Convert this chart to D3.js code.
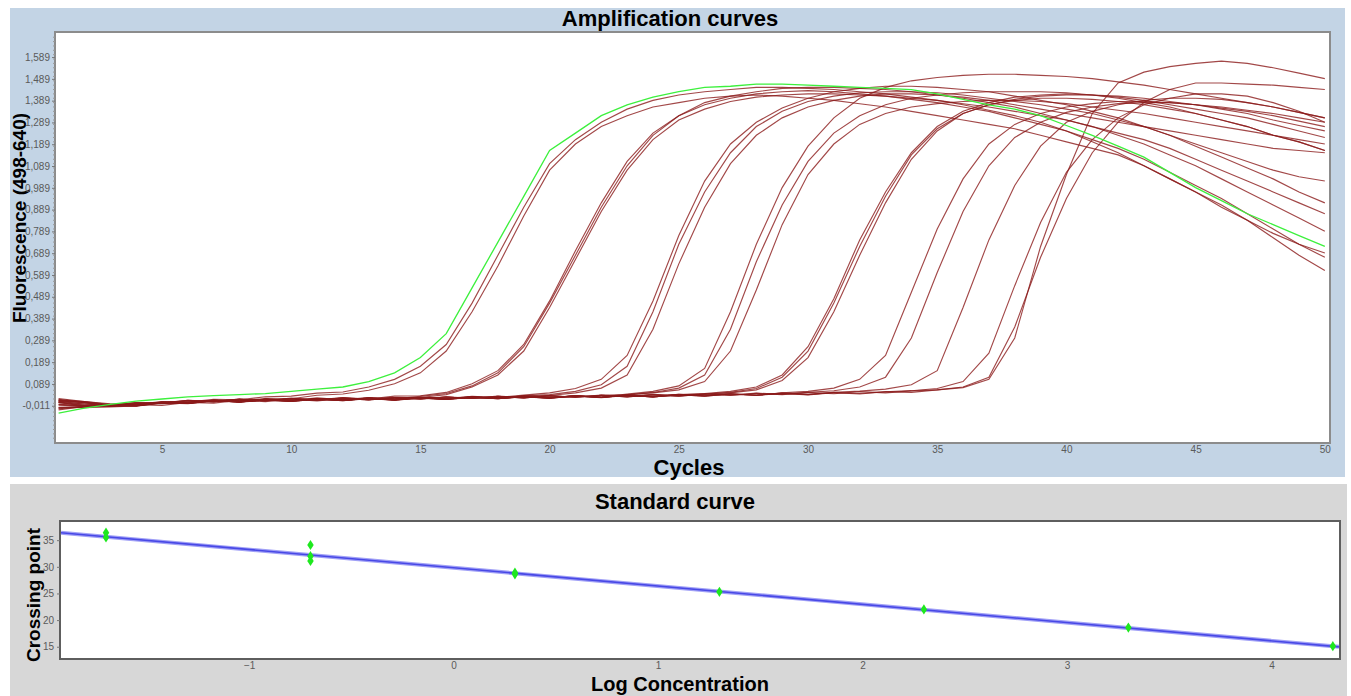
<!DOCTYPE html>
<html><head><meta charset="utf-8">
<script src="https://cdnjs.cloudflare.com/ajax/libs/d3/7.8.5/d3.min.js"></script>
<style>
body{margin:0;background:#fff;}
svg{display:block;}
.ttl{font-family:"Liberation Sans",Arial,sans-serif;font-weight:bold;fill:#000;}
</style>
</head><body>
<svg id="c" width="1351" height="696"></svg>
<script>
// ---------------- DATA ----------------
const cycles = [1,2,3,4,5,6,7,8,9,10,11,12,13,14,15,16,17,18,19,20,21,22,23,24,25,26,27,28,29,30,31,32,33,34,35,36,37,38,39,40,41,42,43,44,45,46,47,48,49,50];

const curveGreen = [-0.045,-0.022,-0.005,0.01,0.02,0.03,0.035,0.04,0.045,0.055, 0.065,0.075,0.1,0.14,0.21,0.32,0.53,0.74,0.95,1.16, 1.24,1.32,1.37,1.405,1.43,1.45,1.455,1.465,1.465,1.46, 1.455,1.45,1.445,1.44,1.42,1.395,1.37,1.35,1.32,1.275, 1.23,1.18,1.13,1.06,0.99,0.93,0.87,0.82,0.77,0.72];
const curveA1 = [0.012,0.002,-0.012,-0.004,0.008,0.006,0.018,0.016,0.03,0.033, 0.047,0.052,0.075,0.11,0.17,0.27,0.46,0.68,0.9,1.1, 1.21,1.29,1.35,1.39,1.415,1.43,1.44,1.45,1.45,1.445, 1.44,1.43,1.42,1.405,1.39,1.37,1.345,1.32,1.29,1.25, 1.2,1.15,1.09,1.03,0.97,0.9,0.84,0.78,0.73,0.69];
const curveA2 = [-0.018,-0.02,-0.016,-0.012,0.003,0.001,0.013,0.011,0.022,0.021, 0.037,0.043,0.06,0.09,0.14,0.24,0.42,0.63,0.86,1.07, 1.19,1.27,1.32,1.36,1.38,1.4,1.41,1.415,1.41,1.4, 1.39,1.375,1.36,1.34,1.32,1.3,1.28,1.26,1.23,1.2, 1.17,1.14,1.09,1.03,0.97,0.91,0.84,0.76,0.68,0.61];
const curveB1 = [0.018,0.004,-0.008,0.003,0.002,0.014,0.008,0.019,0.012,0.024, 0.016,0.027,0.02,0.033,0.035,0.05,0.09,0.15,0.27,0.47, 0.7,0.92,1.11,1.24,1.32,1.37,1.4,1.42,1.43,1.435, 1.43,1.42,1.41,1.395,1.38,1.36,1.34,1.31,1.28,1.25, 1.21,1.17,1.12,1.06,1.0,0.94,0.87,0.8,0.73,0.67];
const curveB2 = [-0.008,-0.013,-0.012,-0.009,0.004,0.001,0.014,0.008,0.019,0.013, 0.025,0.016,0.027,0.021,0.032,0.045,0.08,0.14,0.26,0.46, 0.68,0.9,1.09,1.23,1.32,1.38,1.41,1.43,1.445,1.45, 1.45,1.445,1.44,1.43,1.415,1.4,1.38,1.36,1.33,1.3, 1.27,1.23,1.19,1.14,1.09,1.03,0.97,0.91,0.85,0.79];
const curveB3 = [0.004,-0.002,-0.014,-0.006,-0.009,0.004,0.001,0.014,0.008,0.019, 0.011,0.022,0.016,0.026,0.027,0.04,0.075,0.13,0.24,0.44, 0.66,0.88,1.07,1.21,1.3,1.35,1.385,1.405,1.415,1.42, 1.42,1.415,1.41,1.4,1.39,1.375,1.36,1.34,1.32,1.3, 1.27,1.24,1.21,1.17,1.12,1.07,1.02,0.97,0.92,0.87];
const curveC1 = [0.022,0.008,-0.002,-0.009,0.004,0.004,0.014,0.008,0.019,0.014, 0.022,0.016,0.025,0.019,0.028,0.022,0.032,0.027,0.038,0.048, 0.068,0.11,0.22,0.47,0.77,1.02,1.19,1.29,1.355,1.4, 1.43,1.445,1.455,1.455,1.45,1.44,1.43,1.41,1.39,1.37, 1.34,1.31,1.27,1.23,1.18,1.13,1.08,1.03,0.97,0.92];
const curveC2 = [-0.025,-0.016,-0.011,-0.012,0.002,0.0,0.012,0.006,0.016,0.01, 0.019,0.012,0.022,0.016,0.026,0.02,0.03,0.024,0.034,0.04, 0.055,0.085,0.17,0.42,0.73,0.97,1.15,1.27,1.34,1.385, 1.41,1.425,1.43,1.43,1.425,1.415,1.4,1.385,1.37,1.35, 1.33,1.3,1.27,1.23,1.19,1.15,1.11,1.07,1.04,1.02];
const curveC3 = [0.01,-0.004,-0.004,-0.01,0.006,0.002,0.014,0.008,0.017,0.012, 0.021,0.015,0.024,0.017,0.027,0.021,0.031,0.024,0.034,0.036, 0.048,0.07,0.13,0.34,0.64,0.9,1.1,1.23,1.31,1.36, 1.39,1.41,1.42,1.42,1.415,1.405,1.39,1.37,1.35,1.33, 1.31,1.29,1.27,1.25,1.23,1.21,1.19,1.17,1.16,1.15];
const curveD1 = [0.003,-0.012,-0.008,-0.008,0.007,0.003,0.015,0.009,0.018,0.012, 0.021,0.014,0.023,0.017,0.026,0.019,0.029,0.023,0.032,0.025, 0.035,0.029,0.042,0.055,0.08,0.16,0.42,0.73,0.99,1.18, 1.31,1.4,1.45,1.48,1.495,1.505,1.51,1.51,1.505,1.5, 1.49,1.475,1.46,1.44,1.42,1.4,1.38,1.36,1.335,1.31];
const curveD2 = [-0.03,-0.014,-0.01,-0.011,0.004,0.0,0.012,0.006,0.016,0.009, 0.019,0.013,0.022,0.015,0.025,0.018,0.028,0.021,0.031,0.024, 0.034,0.027,0.038,0.05,0.07,0.13,0.34,0.65,0.91,1.11, 1.24,1.32,1.37,1.4,1.415,1.425,1.43,1.43,1.43,1.425, 1.415,1.4,1.38,1.36,1.33,1.3,1.27,1.23,1.2,1.16];
const curveD3 = [0.014,0.006,-0.01,0.0,0.0,0.012,0.008,0.018,0.012,0.022, 0.015,0.024,0.017,0.026,0.02,0.029,0.022,0.032,0.025,0.035, 0.028,0.037,0.04,0.048,0.062,0.1,0.24,0.52,0.82,1.05, 1.19,1.28,1.33,1.36,1.375,1.385,1.39,1.39,1.385,1.375, 1.36,1.345,1.33,1.31,1.29,1.27,1.25,1.23,1.21,1.19];
const curveE1 = [0.006,-0.008,-0.006,-0.009,0.005,0.002,0.014,0.008,0.018,0.011, 0.02,0.014,0.024,0.017,0.026,0.02,0.029,0.022,0.032,0.025, 0.034,0.028,0.037,0.03,0.04,0.045,0.055,0.075,0.13,0.26, 0.48,0.75,0.97,1.15,1.27,1.34,1.38,1.405,1.415,1.42, 1.415,1.405,1.39,1.37,1.35,1.33,1.31,1.28,1.25,1.22];
const curveE2 = [-0.022,-0.016,-0.011,-0.013,0.002,-0.001,0.011,0.005,0.015,0.009, 0.019,0.012,0.021,0.015,0.024,0.018,0.027,0.021,0.03,0.024, 0.033,0.026,0.036,0.029,0.039,0.042,0.05,0.068,0.12,0.24, 0.46,0.72,0.95,1.14,1.26,1.33,1.37,1.395,1.41,1.415, 1.415,1.41,1.4,1.385,1.37,1.35,1.33,1.3,1.275,1.25];
const curveE3 = [0.008,0.004,-0.012,-0.002,-0.002,0.01,0.006,0.017,0.011,0.021, 0.014,0.023,0.016,0.026,0.019,0.029,0.022,0.031,0.025,0.035, 0.028,0.037,0.03,0.039,0.033,0.042,0.048,0.062,0.105,0.21, 0.42,0.68,0.92,1.12,1.25,1.33,1.37,1.39,1.4,1.4, 1.395,1.385,1.37,1.35,1.33,1.3,1.27,1.23,1.2,1.16];
const curveF1 = [-0.006,-0.012,-0.008,-0.01,0.004,0.001,0.013,0.007,0.017,0.011, 0.02,0.014,0.023,0.016,0.026,0.019,0.029,0.022,0.031,0.025, 0.034,0.027,0.037,0.03,0.04,0.033,0.043,0.037,0.048,0.055, 0.07,0.11,0.22,0.51,0.8,1.03,1.19,1.28,1.33,1.36, 1.375,1.385,1.385,1.38,1.37,1.355,1.34,1.32,1.295,1.27];
const curveF2 = [0.012,0.007,-0.008,0.002,0.0,0.013,0.008,0.018,0.012,0.021, 0.014,0.024,0.017,0.026,0.02,0.029,0.022,0.032,0.025,0.034, 0.028,0.037,0.03,0.04,0.033,0.043,0.036,0.046,0.04,0.05, 0.058,0.075,0.12,0.3,0.6,0.88,1.09,1.22,1.29,1.335, 1.36,1.375,1.38,1.38,1.37,1.36,1.345,1.33,1.31,1.29];
const curveF3 = [0.004,-0.01,-0.007,-0.011,0.005,0.002,0.014,0.008,0.018,0.012, 0.021,0.015,0.024,0.017,0.027,0.02,0.03,0.023,0.033,0.026, 0.035,0.028,0.038,0.031,0.041,0.034,0.044,0.037,0.047,0.04, 0.05,0.056,0.065,0.085,0.15,0.44,0.75,1.0,1.18,1.29, 1.34,1.37,1.39,1.4,1.4,1.395,1.38,1.36,1.335,1.31];
const curveG1 = [-0.02,-0.014,-0.009,-0.011,0.003,0.0,0.012,0.006,0.016,0.01, 0.019,0.013,0.022,0.016,0.025,0.018,0.028,0.021,0.031,0.024, 0.034,0.027,0.037,0.03,0.04,0.033,0.043,0.036,0.046,0.039, 0.049,0.043,0.053,0.058,0.068,0.1,0.23,0.54,0.83,1.06, 1.21,1.31,1.37,1.4,1.42,1.42,1.41,1.38,1.34,1.29];
const curveG2 = [0.016,0.008,-0.006,0.002,0.001,0.014,0.009,0.019,0.013,0.022, 0.015,0.025,0.018,0.027,0.021,0.03,0.023,0.033,0.026,0.035, 0.029,0.038,0.031,0.041,0.034,0.044,0.037,0.047,0.041,0.05, 0.044,0.054,0.048,0.057,0.062,0.075,0.12,0.35,0.67,0.94, 1.15,1.29,1.38,1.44,1.47,1.47,1.465,1.46,1.45,1.44];
const curveG3 = [-0.004,-0.01,-0.008,-0.009,0.005,0.002,0.013,0.007,0.017,0.011, 0.02,0.014,0.023,0.017,0.026,0.02,0.029,0.023,0.032,0.026, 0.035,0.029,0.038,0.032,0.041,0.035,0.044,0.038,0.047,0.041, 0.05,0.045,0.054,0.05,0.062,0.072,0.11,0.3,0.72,1.05, 1.33,1.47,1.52,1.545,1.56,1.57,1.56,1.54,1.515,1.49];

const redCurves = [curveA1,curveA2,curveB1,curveB2,curveB3,curveC1,curveC2,curveC3,curveD1,curveD2,curveD3,curveE1,curveE2,curveE3,curveF1,curveF2,curveF3,curveG1,curveG2,curveG3];

const ampYTicks = [-0.011,0.089,0.189,0.289,0.389,0.489,0.589,0.689,0.789,0.889,0.989,1.089,1.189,1.289,1.389,1.489,1.589];
const ampYLabels = ["-0,011","0,089","0,189","0,289","0,389","0,489","0,589","0,689","0,789","0,889","0,989","1,089","1,189","1,289","1,389","1,489","1,589"];
const ampXTicks = [5,10,15,20,25,30,35,40,45,50];

const stdLogConc = [-1.7,-1.7,-0.7,-0.7,-0.7,0.3,0.3,1.3,2.3,3.3,4.3];
const stdCp = [36.4,35.5,34.1,32.0,31.1,28.9,28.6,25.3,22.0,18.6,15.1];
const fitLogConc = [-1.92,4.33];
const fitCp = [36.4,14.98];
const stdYTicks = [15,20,25,30,35];
const stdXTicks = [-1,0,1,2,3,4];

// ---------------- DRAW ----------------
const tickFont = "'Liberation Sans Narrow','Liberation Sans',Arial,sans-serif";
const svg = d3.select("#c");

svg.append("rect").attr("x",10).attr("y",8).attr("width",1335).attr("height",469).attr("fill","#c3d4e5");
svg.append("rect").attr("x",10).attr("y",484).attr("width",1337).attr("height",212).attr("fill","#d7d7d7");

// ---- amplification plot ----
const P = {l:55,r:1330,t:32,b:443};
const x = d3.scaleLinear().domain([0.86,50.2]).range([P.l,P.r]);
const y = d3.scaleLinear().domain([-0.182,1.704]).range([P.b,P.t]);

svg.append("rect").attr("x",P.l).attr("y",P.t).attr("width",P.r-P.l).attr("height",P.b-P.t)
  .attr("fill","#fff").attr("stroke","#8c8c8c").attr("stroke-width",2);

svg.append("text").attr("class","ttl").attr("x",670).attr("y",26).attr("text-anchor","middle").attr("font-size",22).text("Amplification curves");
svg.append("text").attr("class","ttl").attr("x",689).attr("y",475).attr("text-anchor","middle").attr("font-size",22).text("Cycles");
svg.append("text").attr("class","ttl").attr("transform","translate(26,218) rotate(-90)").attr("text-anchor","middle").attr("font-size",19).text("Fluorescence (498-640)");

const yAxis = d3.axisLeft(y).tickValues(ampYTicks).tickFormat((d,i)=>ampYLabels[i]).tickSize(3).tickPadding(2);
const gy = svg.append("g").attr("transform",`translate(${P.l},0)`).call(yAxis);
gy.select(".domain").remove();
gy.selectAll("line").attr("stroke","#777");
gy.selectAll("text").attr("font-size",10).attr("fill","#5a5a5a").style("font-family",tickFont);
const minor = d3.range(-0.16,1.70,0.02);
svg.append("g").selectAll("line").data(minor).join("line")
  .attr("x1",P.l-2).attr("x2",P.l).attr("y1",d=>y(d)).attr("y2",d=>y(d)).attr("stroke","#999").attr("stroke-width",1);

const xAxis = d3.axisBottom(x).tickValues(ampXTicks).tickSize(0).tickPadding(3);
const gx = svg.append("g").attr("transform",`translate(0,${P.b})`).call(xAxis);
gx.select(".domain").remove();
gx.selectAll("text").attr("font-size",10).attr("fill","#5a5a5a").style("font-family",tickFont);

const line = d3.line().x((d,i)=>x(cycles[i])).y(d=>y(d));
svg.append("clipPath").attr("id","clipA").append("rect").attr("x",P.l+1).attr("y",P.t+1).attr("width",P.r-P.l-2).attr("height",P.b-P.t-2);
const gl = svg.append("g").attr("clip-path","url(#clipA)");
gl.selectAll("path.red").data(redCurves).join("path").attr("class","red")
  .attr("d",line).attr("fill","none").attr("stroke","#8b1a1a").attr("stroke-opacity",0.8).attr("stroke-width",1.15);
gl.append("path").datum(curveGreen).attr("d",line).attr("fill","none").attr("stroke","#3df03d").attr("stroke-width",1.3);

// ---- standard curve plot ----
const Q = {l:60,r:1340,t:521,b:659};
const x2 = d3.scaleLinear().domain([-1.925,4.335]).range([Q.l,Q.r]);
const y2 = d3.scaleLinear().domain([12.7,38.6]).range([Q.b,Q.t]);

svg.append("rect").attr("x",Q.l).attr("y",Q.t).attr("width",Q.r-Q.l).attr("height",Q.b-Q.t)
  .attr("fill","#fff").attr("stroke","#5e5e5e").attr("stroke-width",2);

svg.append("text").attr("class","ttl").attr("x",675).attr("y",509).attr("text-anchor","middle").attr("font-size",22).text("Standard curve");
svg.append("text").attr("class","ttl").attr("x",680).attr("y",691).attr("text-anchor","middle").attr("font-size",20).text("Log Concentration");
svg.append("text").attr("class","ttl").attr("transform","translate(40,595) rotate(-90)").attr("text-anchor","middle").attr("font-size",19).text("Crossing point");

const gy2 = svg.append("g").attr("transform",`translate(${Q.l},0)`).call(d3.axisLeft(y2).tickValues(stdYTicks).tickSize(3).tickPadding(3));
gy2.select(".domain").remove();
gy2.selectAll("line").attr("stroke","#777");
gy2.selectAll("text").attr("font-size",10).attr("fill","#5a5a5a").style("font-family",tickFont);
const gx2 = svg.append("g").attr("transform",`translate(0,${Q.b})`).call(d3.axisBottom(x2).tickValues(stdXTicks).tickSize(0).tickPadding(3).tickFormat(d3.format("d")));
gx2.select(".domain").remove();
gx2.selectAll("text").attr("font-size",10).attr("fill","#5a5a5a").style("font-family",tickFont);

const fitLine = d3.line().x((d,i)=>x2(fitLogConc[i])).y(d=>y2(d));
svg.append("path").datum(fitCp).attr("d",fitLine).attr("fill","none").attr("stroke","#a0a0f6").attr("stroke-width",4);
svg.append("path").datum(fitCp).attr("d",fitLine).attr("fill","none").attr("stroke","#4848e6").attr("stroke-width",1.6);

const diamond = d3.symbol().type(d3.symbolDiamond).size(30);
svg.append("g").selectAll("path").data(stdCp).join("path")
  .attr("d",diamond)
  .attr("transform",(d,i)=>`translate(${x2(stdLogConc[i])},${y2(d)}) scale(1.1,1.0)`)
  .attr("fill","#1ee81e");
</script>
</body></html>
